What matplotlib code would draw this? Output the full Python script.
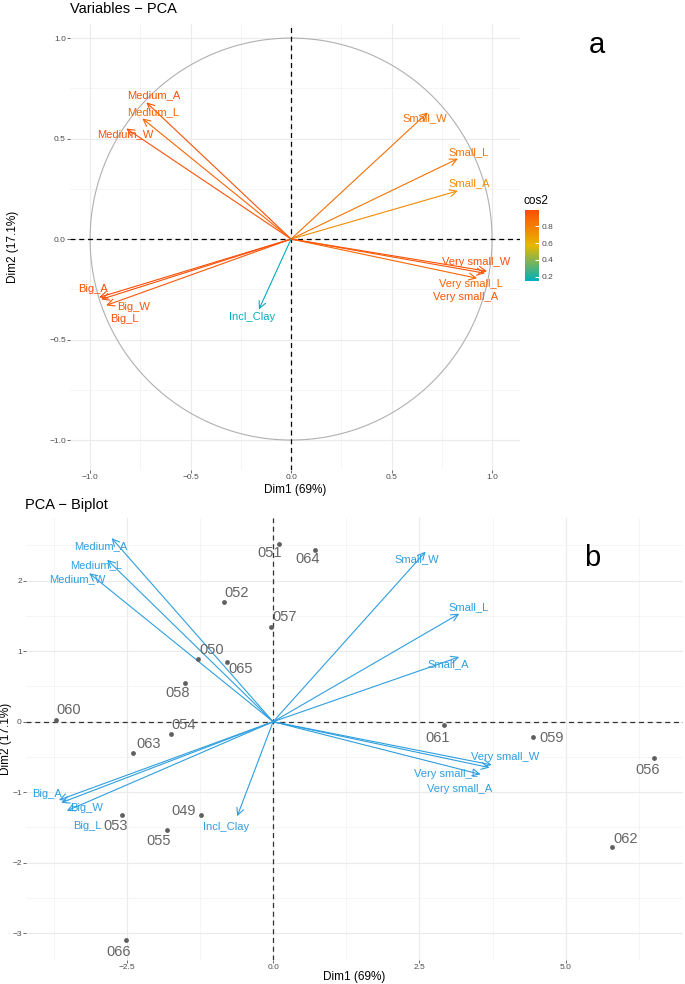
import numpy as np
import matplotlib
matplotlib.use("Agg")
import matplotlib.pyplot as plt
from matplotlib.colors import LinearSegmentedColormap, Normalize

plt.rcParams['font.family'] = ['Liberation Sans', 'DejaVu Sans']

# variable coordinates (correlation circle)
var_names = ['Medium_A', 'Medium_L', 'Medium_W', 'Small_W', 'Small_L', 'Small_A',
             'Very small_W', 'Very small_L', 'Very small_A', 'Big_A', 'Big_W', 'Big_L',
             'Incl_Clay']
var_dim1 = [-0.72, -0.74, -0.82, 0.68, 0.83, 0.83, 0.975, 0.925, 0.965, -0.955, -0.92, -0.945, -0.16]
var_dim2 = [0.68, 0.60, 0.55, 0.63, 0.40, 0.24, -0.16, -0.195, -0.17, -0.29, -0.33, -0.30, -0.35]

# individuals (samples)
ind_names = ['051', '064', '052', '057', '050', '065', '058', '060', '054', '063',
             '053', '055', '049', '066', '061', '059', '056', '062']
ind_dim1 = [0.10, 0.72, -0.84, -0.04, -1.28, -0.79, -1.50, -3.71, -1.75, -2.39,
            -2.58, -1.81, -1.23, -2.51, 2.91, 4.43, 6.51, 5.78]
ind_dim2 = [2.52, 2.44, 1.70, 1.35, 0.89, 0.85, 0.55, 0.02, -0.17, -0.45,
            -1.32, -1.53, -1.32, -3.09, -0.04, -0.21, -0.51, -1.77]

biplot_scale = 3.83  # arrow scaling in the biplot

# label offsets in pixels (repel-like placement)
var_off_a = [(7, 7), (11, 6), (-1, -6), (-3, -6), (11, 7), (11, 8), (-11, 9), (-6, -6),
             (-19, -24), (-6, 8), (27, -2), (23, -20), (-7, -8)]
var_off_b = [(-11, -8), (-11, -5), (-12, -6), (-9, -7), (9, 7), (-11, -7), (13, 8), (-35, 0),
             (-30, -21), (-12, 6), (20, 3), (26, -23), (-11, -11)]
ind_off = [(-9, -9), (-8, -9), (13, 9), (14, 10), (14, 9), (14, -7), (-8, -10), (13, 10),
           (13, 9), (15, 9), (-6, -11), (-8, -11), (-17, 4), (-8, -12), (-6, -13), (19, -1),
           (-7, -12), (14, 8)]

W, H = 685, 984
fig = plt.figure(figsize=(W / 100, H / 100), dpi=100)


def px_axes(left, top, right, bottom):
    return fig.add_axes([left / W, 1 - bottom / H, (right - left) / W, (bottom - top) / H])


def style_axes(ax):
    for s in ax.spines.values():
        s.set_visible(False)
    ax.tick_params(length=2, width=0.6, color='#4d4d4d', labelsize=6, labelcolor='#4d4d4d', pad=1)
    ax.grid(which='major', color='#ebebeb', lw=0.8)
    ax.grid(which='minor', color='#f2f2f2', lw=0.5)
    ax.tick_params(which='minor', length=0)
    ax.set_axisbelow(True)


# ---------- panel a: variables ----------
cos2 = np.array(var_dim1) ** 2 + np.array(var_dim2) ** 2
cmap = LinearSegmentedColormap.from_list('fx', ['#00AFBB', '#E7B800', '#FC4E07'])
norm = Normalize(vmin=cos2.min(), vmax=cos2.max())

ax = px_axes(70, 24, 520, 470)
style_axes(ax)
ax.set_xlim(-1.10, 1.139)
ax.set_ylim(-1.149, 1.07)
ax.set_xticks([-1.0, -0.5, 0.0, 0.5, 1.0])
ax.set_yticks([-1.0, -0.5, 0.0, 0.5, 1.0])
ax.set_xticks([-0.75, -0.25, 0.25, 0.75], minor=True)
ax.set_yticks([-0.75, -0.25, 0.25, 0.75], minor=True)

t = np.linspace(0, 2 * np.pi, 200)
ax.plot(np.cos(t), np.sin(t), color='#b0b0b0', lw=0.8)
ax.axhline(0, color='black', ls='--', lw=0.9, dashes=(4, 3))
ax.axvline(0, color='black', ls='--', lw=0.9, dashes=(4, 3))

for name, x, y, c2, off in zip(var_names, var_dim1, var_dim2, cos2, var_off_a):
    col = cmap(norm(c2))
    ax.annotate('', xy=(x, y), xytext=(0, 0),
                arrowprops=dict(arrowstyle='->,head_length=0.5,head_width=0.25', color=col,
                                lw=0.8, shrinkA=0, shrinkB=0, mutation_scale=10))
    ax.annotate(name, xy=(x, y), xytext=off, textcoords='offset pixels',
                ha='center', va='center', fontsize=8, color=col)

ax.set_xlabel('Dim1 (69%)', fontsize=8.5, labelpad=2)
ax.set_ylabel('Dim2 (17.1%)', fontsize=8.5, labelpad=22)
fig.text(70 / W, 1 - 9 / H, 'Variables \u2212 PCA', fontsize=10.5, va='center', ha='left')
fig.text(597 / W, 1 - 45 / H, 'a', fontsize=21, va='center', ha='center')

# colorbar legend
cax = px_axes(525, 210, 539, 281)
sm = plt.cm.ScalarMappable(cmap=cmap, norm=norm)
cb = fig.colorbar(sm, cax=cax, ticks=[0.2, 0.4, 0.6, 0.8])
cb.outline.set_visible(False)
cb.ax.tick_params(labelsize=6, length=3, color='white', direction='in', pad=2, labelcolor='#4d4d4d')
cb.ax.set_yticklabels(['0.2', '0.4', '0.6', '0.8'])
fig.text(524 / W, 1 - 201 / H, 'cos2', fontsize=8.5, va='center', ha='left')

# ---------- panel b: biplot ----------
bx = px_axes(26, 518, 683, 960)
style_axes(bx)
bx.set_xlim(-4.22, 7.0)
bx.set_ylim(-3.38, 2.89)
bx.set_xticks([-2.5, 0.0, 2.5, 5.0])
bx.set_xticklabels(['\u22122.5', '0.0', '2.5', '5.0'])
bx.set_xticks([-3.75, -1.25, 1.25, 3.75, 6.25], minor=True)
bx.set_yticks([-3, -2, -1, 0, 1, 2])
bx.set_yticks([-2.5, -1.5, -0.5, 0.5, 1.5, 2.5], minor=True)
bx.axhline(0, color='#333333', ls='--', lw=0.9, dashes=(4, 3))
bx.axvline(0, color='#333333', ls='--', lw=0.9, dashes=(4, 3))

var_col = '#2E9FDF'
for name, x, y, off in zip(var_names, var_dim1, var_dim2, var_off_b):
    xs, ys = x * biplot_scale, y * biplot_scale
    bx.annotate('', xy=(xs, ys), xytext=(0, 0),
                arrowprops=dict(arrowstyle='->,head_length=0.5,head_width=0.25', color=var_col,
                                lw=0.8, shrinkA=0, shrinkB=0, mutation_scale=10))
    bx.annotate(name, xy=(xs, ys), xytext=off, textcoords='offset pixels',
                ha='center', va='center', fontsize=8, color=var_col)

ind_col = '#5f5f5f'
bx.scatter(ind_dim1, ind_dim2, s=12, color=ind_col, zorder=3, lw=0)
for name, x, y, off in zip(ind_names, ind_dim1, ind_dim2, ind_off):
    bx.annotate(name, xy=(x, y), xytext=off, textcoords='offset pixels',
                ha='center', va='center', fontsize=10.5, color='#666666')

bx.set_xlabel('Dim1 (69%)', fontsize=8.5, labelpad=0)
bx.set_ylabel('Dim2 (17.1%)', fontsize=8.5, labelpad=0)
fig.text(25 / W, 1 - 505 / H, 'PCA \u2212 Biplot', fontsize=10.5, va='center', ha='left')
fig.text(592 / W, 1 - 558 / H, 'b', fontsize=21, va='center', ha='center')

fig.savefig('out.png', dpi=100, facecolor='white')
